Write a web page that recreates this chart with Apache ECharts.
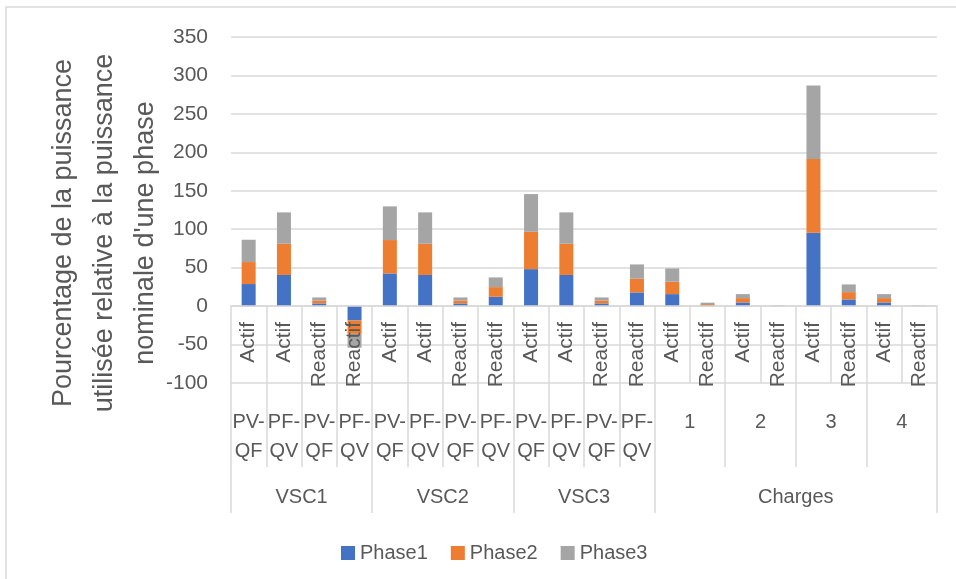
<!DOCTYPE html>
<html>
<head>
<meta charset="utf-8">
<script src="https://cdn.jsdelivr.net/npm/echarts@6/dist/echarts.min.js"></script>
<style>
  html, body { margin: 0; padding: 0; background: #fff; }
  #chart { width: 956px; height: 579px; }
</style>
</head>
<body>
<div id="chart"></div>
<script>
// niveau 1 : type de puissance
var level1 = ['Actif', 'Actif', 'Reactif', 'Reactif',
              'Actif', 'Actif', 'Reactif', 'Reactif',
              'Actif', 'Actif', 'Reactif', 'Reactif',
              'Actif', 'Reactif', 'Actif', 'Reactif',
              'Actif', 'Reactif', 'Actif', 'Reactif'];
// niveau 2 : mode de controle / charge, avec le nombre de barres couvertes
var level2 = ['PV-\nQF', 'PF-\nQV', 'PV-\nQF', 'PF-\nQV',
              'PV-\nQF', 'PF-\nQV', 'PV-\nQF', 'PF-\nQV',
              'PV-\nQF', 'PF-\nQV', 'PV-\nQF', 'PF-\nQV',
              '1', '2', '3', '4'];
var level2Span = [1, 1, 1, 1, 1, 1, 1, 1, 1, 1, 1, 1, 2, 2, 2, 2];
// niveau 3 : groupes
var level3 = ['VSC1', 'VSC2', 'VSC3', 'Charges'];
var level3Span = [4, 4, 4, 8];

var phase1 = [28.7, 40.5, 3.5, -18.6, 42.5, 40.5, 3.5, 12.1, 48.1, 40.5, 3.5, 17.8,
              15.6, 1.2, 4.8, 0.3, 95.4, 8.7, 4.8, 0.3];
var phase2 = [28.6, 40.6, 3.9, -17.5, 43.4, 40.6, 3.9, 12.6, 48.6, 40.6, 3.9, 17.8,
              16.1, 1.4, 5.6, 0.3, 95.8, 9.5, 5.6, 0.3];
var phase3 = [29.0, 40.8, 3.9, -18.0, 43.8, 40.8, 3.9, 12.6, 49.0, 40.8, 3.9, 18.6,
              17.3, 1.9, 5.2, 0.3, 95.8, 10.0, 5.2, 0.3];

var yTicks = { min: -100, max: 350, step: 50 };

var txt = '#595959';
var line = '#d9d9d9';
var font = 'Liberation Sans';

// construit un axe de 41 positions (demi-categories) pour un niveau regroupe
function buildLevel(labels, spans) {
    var slots = [], ticks = {}, pos = 0;
    for (var i = 0; i <= 40; i++) slots.push('');
    ticks[0] = true;
    labels.forEach(function (lab, i) {
        slots[pos + spans[i]] = lab;
        pos += spans[i] * 2;
        ticks[pos] = true;
    });
    return { data: slots, ticks: ticks };
}
var lv2 = buildLevel(level2, level2Span);
var lv3 = buildLevel(level3, level3Span);

var chart = echarts.init(document.getElementById('chart'));

function bar(name, data, color) {
    return {
        name: name,
        type: 'bar',
        stack: 'total',
        barWidth: 14,
        itemStyle: { color: color },
        data: data
    };
}

var option = {
    animation: false,
    textStyle: { fontFamily: font },
    grid: { left: 231, right: 19, top: 37, bottom: 196 },
    legend: {
        left: 336,
        top: 538,
        icon: 'rect',
        itemWidth: 14,
        itemHeight: 14,
        itemGap: 23,
        textStyle: { color: txt, fontSize: 20, fontFamily: font },
        data: ['Phase1', 'Phase2', 'Phase3']
    },
    xAxis: [
        {
            // niveau 1, sur la ligne du zero
            type: 'category',
            position: 'bottom',
            offset: -77,
            z: 5,
            data: level1,
            axisLine: { onZero: false, lineStyle: { color: line, width: 1.5 } },
            axisTick: { show: true, length: 77, interval: 0, lineStyle: { color: line, width: 1.5 } },
            axisLabel: { rotate: 90, interval: 0, margin: 16, color: txt, fontSize: 21, fontFamily: font }
        },
        {
            type: 'category',
            boundaryGap: false,
            position: 'bottom',
            offset: 0,
            data: lv2.data,
            axisLine: { show: false, onZero: false },
            axisTick: {
                show: true, length: 84, lineStyle: { color: line, width: 1.5 },
                interval: function (i) { return !!lv2.ticks[i]; }
            },
            axisLabel: { interval: 0, margin: 25, color: txt, fontSize: 20, lineHeight: 29, fontFamily: font }
        },
        {
            type: 'category',
            boundaryGap: false,
            position: 'bottom',
            offset: 84,
            data: lv3.data,
            axisLine: { show: false, onZero: false },
            axisTick: {
                show: true, length: 46, lineStyle: { color: line, width: 1.5 },
                interval: function (i) { return !!lv3.ticks[i]; }
            },
            axisLabel: { interval: 0, margin: 20, color: txt, fontSize: 20, fontFamily: font }
        }
    ],
    yAxis: {
        type: 'value',
        min: yTicks.min,
        max: yTicks.max,
        interval: yTicks.step,
        axisLine: { show: false },
        axisTick: { show: false },
        axisLabel: { color: txt, fontSize: 21, margin: 23, fontFamily: font },
        splitLine: { lineStyle: { color: line, width: 1.5 } }
    },
    graphic: [
        {
            type: 'rect',
            silent: true,
            shape: { x: 6, y: 7, width: 970, height: 600 },
            style: { fill: 'none', stroke: line, lineWidth: 1.5 }
        },
        {
            type: 'text',
            x: 105,
            y: 233,
            rotation: Math.PI / 2,
            style: {
                text: 'Pourcentage de la puissance\nutilisée relative à la puissance\nnominale d\'une phase',
                fill: txt,
                font: '27px "' + font + '"',
                lineHeight: 41,
                align: 'center',
                verticalAlign: 'middle'
            }
        }
    ],
    series: [
        bar('Phase1', phase1, '#4472c4'),
        bar('Phase2', phase2, '#ed7d31'),
        bar('Phase3', phase3, '#a5a5a5')
    ]
};

chart.setOption(option);
</script>
</body>
</html>
